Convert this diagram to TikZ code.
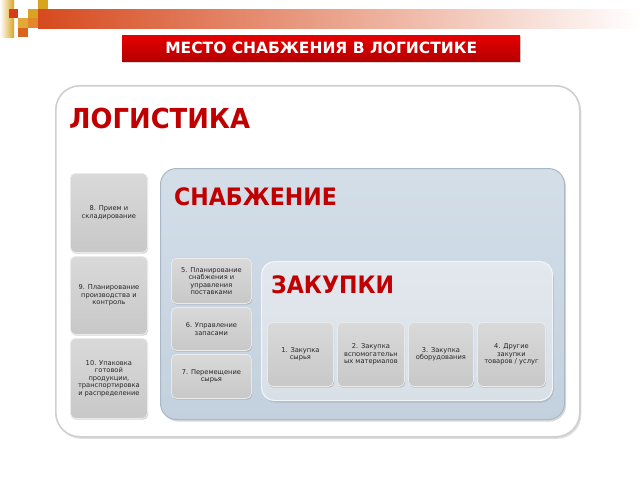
\documentclass[tikz,border=0pt]{standalone}
\usepackage{fontspec}
\setmainfont{DejaVu Sans}
\newfontfamily\headf[FakeStretch=0.92]{DejaVu Sans}
\newfontfamily\logf[FakeStretch=0.94]{DejaVu Sans}
\usetikzlibrary{shadows}
\definecolor{hred}{HTML}{C00000}
\definecolor{tred1}{HTML}{E60000}
\definecolor{tred2}{HTML}{B40000}
\definecolor{barL}{HTML}{D64A1E}
\definecolor{barM}{HTML}{E8A48E}
\definecolor{sqred}{HTML}{D93A1A}
\definecolor{sqgold}{HTML}{D9A520}
\definecolor{sqgold2}{HTML}{E3A83A}
\definecolor{sqor}{HTML}{E5862A}
\definecolor{sqdor}{HTML}{D8641E}
\definecolor{gtop}{HTML}{D9D9D9}
\definecolor{gbot}{HTML}{C8C8C8}
\definecolor{gedge}{HTML}{EAEAEA}
\definecolor{btop}{HTML}{D3DEE8}
\definecolor{bbot}{HTML}{C3D1DE}
\definecolor{bedge}{HTML}{A9B8C7}
\definecolor{ztop}{HTML}{E3E8EE}
\definecolor{zbot}{HTML}{D8DFE7}
\definecolor{zedge}{HTML}{F2F5F8}
\definecolor{oedge}{HTML}{CFCFCF}
\definecolor{txt}{HTML}{262626}
\begin{document}
\begin{tikzpicture}[x=1pt,y=-1pt,
  gbox/.style={rounded corners=5pt, draw=gedge, line width=0.8pt,
    top color=gtop, bottom color=gbot,
    drop shadow={shadow xshift=0.8pt,shadow yshift=-1.3pt,opacity=0.35},
    align=center, inner sep=0pt, text=txt,
    font=\fontsize{6.7}{7.5}\selectfont},
  heading/.style={anchor=base west, inner sep=0pt, text=hred,
    font=\headf\bfseries\fontsize{24}{24}\selectfont}]
\useasboundingbox (0,0) rectangle (640,480);
\fill[white] (0,0) rectangle (640,480);

% top decoration
\shade[left color=barL, middle color=barM, right color=white] (38,9) rectangle (640,28);
\shade[left color=white, right color=sqgold] (0,0) rectangle (14,37);
\fill[sqred] (9,9) rectangle (18,18);
\fill[sqgold] (28,9) rectangle (38,18);
\fill[sqgold] (38,0) rectangle (48,9);
\fill[sqgold2] (18,18) rectangle (28,28);
\fill[sqor] (28,18) rectangle (38,28);
\fill[sqdor] (18,28) rectangle (28,37);

% title
\node[anchor=north west, minimum width=398pt, minimum height=26pt, inner sep=0pt,
  top color=tred1, bottom color=tred2,
  drop shadow={shadow xshift=1pt,shadow yshift=-1.5pt,opacity=0.3},
  text=white, font=\bfseries\fontsize{15.5}{16}\selectfont] (title) at (122,35)
  {МЕСТО СНАБЖЕНИЯ В ЛОГИСТИКЕ};

% outer logistics box
\node[anchor=north west, minimum width=524pt, minimum height=351pt, inner sep=0pt,
  rounded corners=24pt, draw=oedge, line width=1.6pt, fill=white,
  drop shadow={shadow xshift=1.5pt,shadow yshift=-2pt,opacity=0.25}] (log) at (55,85) {};
\node[heading, font=\logf\bfseries\fontsize{27.5}{27.5}\selectfont] (logt) at (69,128) {ЛОГИСТИКА};

% supply box
\node[anchor=north west, minimum width=404pt, minimum height=251pt, inner sep=0pt,
  rounded corners=16pt, draw=bedge, line width=1pt, top color=btop, bottom color=bbot,
  drop shadow={shadow xshift=1.5pt,shadow yshift=-2pt,opacity=0.3}] (sup) at (160,168) {};
\node[heading] (supt) at (174,205) {СНАБЖЕНИЕ};

% purchasing box
\node[anchor=north west, minimum width=291pt, minimum height=139pt, inner sep=0pt,
  rounded corners=13pt, draw=zedge, line width=1.2pt, top color=ztop, bottom color=zbot,
  drop shadow={shadow xshift=1.2pt,shadow yshift=-2pt,opacity=0.3}] (pur) at (261,261) {};
\node[heading] (purt) at (271,293) {ЗАКУПКИ};

% left column
\node[gbox, anchor=north west, minimum width=77pt, minimum height=79pt] (b8) at (70,173)
  {8. Прием и\\складирование};
\node[gbox, anchor=north west, minimum width=77pt, minimum height=78pt] (b9) at (70,256)
  {9. Планирование\\производства и\\контроль};
\node[gbox, anchor=north west, minimum width=77pt, minimum height=80pt] (b10) at (70,338)
  {10. Упаковка\\готовой\\продукции,\\транспортировка\\и распределение};

% middle column
\node[gbox, anchor=north west, minimum width=80pt, minimum height=45pt] (b5) at (171,258)
  {5. Планирование\\снабжения и\\управления\\поставками};
\node[gbox, anchor=north west, minimum width=80pt, minimum height=43pt] (b6) at (171,307)
  {6. Управление\\запасами};
\node[gbox, anchor=north west, minimum width=80pt, minimum height=44pt] (b7) at (171,354)
  {7. Перемещение\\сырья};

% bottom row
\node[gbox, anchor=north west, minimum width=66pt, minimum height=64pt] (b1) at (267,322)
  {1. Закупка\\сырья};
\node[gbox, anchor=north west, minimum width=67pt, minimum height=64pt] (b2) at (337,322)
  {2. Закупка\\вспомогательн\\ых материалов};
\node[gbox, anchor=north west, minimum width=65pt, minimum height=64pt] (b3) at (408,322)
  {3. Закупка\\оборудования};
\node[gbox, anchor=north west, minimum width=68pt, minimum height=64pt] (b4) at (477,322)
  {4. Другие\\закупки\\товаров / услуг};
\end{tikzpicture}
\end{document}
